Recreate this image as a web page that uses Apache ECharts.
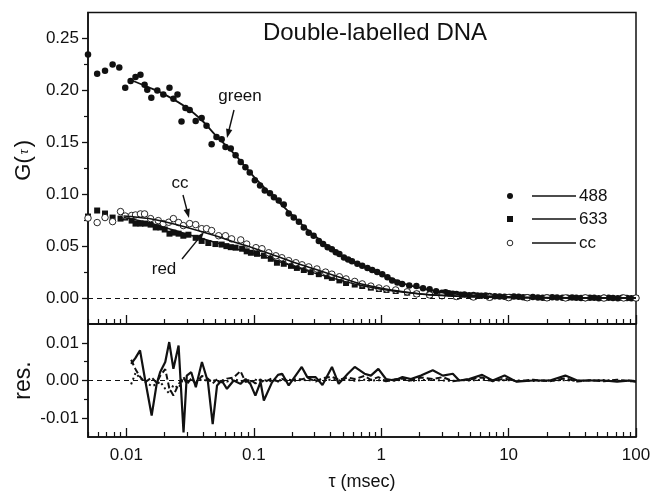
<!DOCTYPE html>
<html><head><meta charset="utf-8">
<script src="https://cdn.jsdelivr.net/npm/echarts@6/dist/echarts.min.js"></script>
<style>html,body{margin:0;padding:0;background:#fff}#c{width:651px;height:495px}</style>
</head><body><div id="c"></div>
<script>
// ---------- data (tau in msec) ----------
const tau488 = [0.005,0.0059,0.0068,0.0078,0.0088,0.0098,0.0108,0.0118,0.0129,0.0139,0.0146,0.0157,0.0175,0.0195,0.0218,0.0234,0.0252,0.0271,0.0291,0.0314,0.035,0.039,0.0426,0.0467,0.051,0.056,0.060,0.066,0.072,0.079,0.086,0.093,0.102,0.112,0.122,0.134,0.144,0.157,0.172,0.188,0.206,0.226,0.247,0.27,0.295,0.324,0.35,0.38,0.41,0.44,0.47,0.51,0.55,0.59,0.65,0.71,0.78,0.85,0.93,1.02,1.12,1.22,1.34,1.46,1.66,1.89,2.13,
  2.4,2.7,3.0,3.2,3.4,3.65,3.9,4.2,4.5,4.9,5.3,5.7,6.1,6.6,7.1,7.8,8.5,9.3,10.2,11,12,13,14,15.5,17,18.5,20,22,24,26.5,29,31.5,34,37,40,43.5,47,51,56,61,66,72,78,85,92,100];
const g488 = [0.2345,0.216,0.219,0.225,0.222,0.2025,0.209,0.213,0.215,0.2055,0.2005,0.193,0.200,0.196,0.2025,0.192,0.196,0.170,0.183,0.181,0.1705,0.1735,0.166,0.148,0.155,0.153,0.1455,0.144,0.1375,0.131,0.126,0.121,0.1135,0.1085,0.1035,0.101,0.097,0.094,0.090,0.0815,0.0775,0.0735,0.068,0.063,0.060,0.055,0.052,0.049,0.047,0.044,0.0425,0.039,0.037,0.0355,0.033,0.031,0.029,0.027,0.025,0.023,0.020,0.017,0.015,0.0135,0.012,0.0115,0.0095,
  0.0085,0.0065,0.005,0.0055,0.0045,0.0042,0.004,0.0032,0.0035,0.0028,0.003,0.0025,0.0022,0.0024,0.002,0.0018,0.0015,0.0012,0.001,0.0014,0.0012,0.0008,0.0008,0.001,0.0006,0.0004,0.0005,0.0007,0.0006,0.0002,0.0003,0.0006,0.0004,0.0,0.0001,0.0003,0.0002,-0.0001,0.0002,0.0003,0.0,-0.0002,0.0002,0.0001,-0.0001,0.0];

const tau633 = [0.005,0.0059,0.0068,0.0078,0.009,0.0098,0.011,0.0118,0.0129,0.014,0.0155,0.017,0.0185,0.02,0.0218,0.0234,0.0257,0.028,0.0307,0.035,0.039,0.044,0.050,0.056,0.061,0.066,0.072,0.081,0.088,0.095,0.106,0.12,0.136,0.152,0.172,0.196,0.218,0.247,0.28,0.324,0.376,0.41,0.47,0.53,0.62,0.71,0.83,0.96,1.1,1.3,1.6,1.9,2.4,3.0,3.9,5.3,7.1,10,14,20,28,40,56,80,100];
const g633 = [0.0785,0.0843,0.0814,0.0775,0.0765,0.0775,0.0746,0.0717,0.0717,0.0717,0.0707,0.068,0.068,0.066,0.062,0.063,0.062,0.060,0.061,0.058,0.055,0.053,0.052,0.0515,0.050,0.049,0.0485,0.0475,0.045,0.0436,0.0426,0.0407,0.0378,0.034,0.033,0.031,0.029,0.027,0.025,0.023,0.021,0.0194,0.017,0.0145,0.013,0.0116,0.010,0.0087,0.0078,0.0068,0.0052,0.004,0.003,0.0022,0.0015,0.001,0.0008,0.0005,0.0003,0.0002,0.0001,0.0002,0.0,0.0001,0.0];

const tauCC = [0.005,0.0059,0.0068,0.0078,0.009,0.0098,0.011,0.0118,0.0129,0.0139,0.0155,0.0178,0.0195,0.0215,0.0234,0.0257,0.028,0.0314,0.035,0.039,0.0426,0.0467,0.053,0.060,0.067,0.079,0.088,0.104,0.116,0.131,0.149,0.166,0.188,0.214,0.239,0.27,0.313,0.366,0.41,0.47,0.53,0.62,0.71,0.83,0.96,1.1,1.3,1.6,1.9,2.4,3.0,3.9,5.3,7.1,10,14,20,28,40,56,80,100];
const gCC = [0.077,0.0727,0.0775,0.0736,0.0833,0.079,0.0795,0.080,0.081,0.081,0.0765,0.0746,0.0717,0.073,0.0765,0.0727,0.0698,0.0717,0.0707,0.0668,0.0668,0.065,0.060,0.060,0.057,0.056,0.052,0.0485,0.0475,0.0436,0.0407,0.0388,0.036,0.034,0.032,0.030,0.028,0.025,0.023,0.0205,0.0184,0.016,0.0136,0.0115,0.0097,0.0088,0.0078,0.006,0.004,0.003,0.0022,0.0015,0.001,0.0007,0.0004,0.0003,0.0002,0.0001,0.0002,0.0,0.0001,0.0];

const fitTau488 = [0.0108,0.015,0.02,0.03,0.04,0.05,0.07,0.1,0.15,0.2,0.3,0.5,0.7,1,1.5,2,3,5,10,20,50,100];
const fit488 = [0.210,0.203,0.196,0.183,0.170,0.157,0.139,0.117,0.095,0.080,0.060,0.040,0.031,0.023,0.014,0.010,0.0055,0.0027,0.001,0.0004,0.0001,0];
const fitTau = [0.0095,0.015,0.02,0.03,0.05,0.07,0.1,0.15,0.2,0.3,0.5,0.7,1,1.5,2,3,5,10,30,100];
const fit633 = [0.0775,0.0725,0.068,0.0615,0.0535,0.048,0.043,0.036,0.031,0.024,0.0165,0.012,0.0085,0.0055,0.004,0.0025,0.0013,0.0005,0.0001,0];
const fitCC = [0.079,0.0765,0.0735,0.068,0.060,0.054,0.048,0.0405,0.035,0.028,0.019,0.0135,0.0095,0.006,0.0042,0.0026,0.0013,0.0005,0.0001,0];

const resTau = [0.0109,0.0118,0.0128,0.014,0.0158,0.0173,0.0184,0.0202,0.0217,0.0234,0.0257,0.0281,0.0298,0.0323,0.0351,0.0392,0.0437,0.0476,0.0515,0.056,0.0616,0.0696,0.0786,0.0862,0.094,0.103,0.113,0.12,0.139,0.155,0.167,0.188,0.213,0.238,0.263,0.306,0.346,0.411,0.464,0.547,0.62,0.74,0.83,0.95,1.09,1.27,1.47,1.71,2.05,2.54,3.05,3.65,4.1,4.9,6.2,7.5,9.3,11.5,15.6,21.1,27.9,34.6,44,56,71,91,100];
const res488 = [0.0044,0.006,0.008,0.0004,-0.0093,-0.0009,0.0022,0.0049,0.0102,0.0031,0.0093,-0.0138,0.0013,0.0022,-0.0018,0.0049,-0.0004,-0.0116,-0.0013,0,-0.0022,0,-0.0009,0.0004,-0.0009,-0.004,-0.0004,-0.0053,-0.0005,0.0015,0.0018,-0.0013,0.0013,0.0036,0.0009,0.0009,-0.0012,0.0036,-0.0009,0.0018,0.0036,0.0018,0.0013,0.0031,0.0004,0,0.0009,0.0004,0.0013,0.0027,0.0013,0.0018,0,0.0004,0.0015,0,0.0013,-0.0003,0,0,0.0013,0,0,0,-0.0003,0,-0.0003];
const res633 = [0.0055,0.003,0.001,-0.0005,0.0008,-0.0006,0.0012,0.003,-0.002,-0.004,-0.001,0.001,-0.001,0.0005,-0.0008,0.0012,0.0005,-0.0008,0.0004,-0.0005,0.0005,0.0008,0.0025,-0.0004,0.0003,-0.0008,0.0003,-0.0005,0.0006,-0.0003,0.0004,-0.0002,0.0003,0.0003,0.0008,-0.0003,0.0006,0.001,0.0002,0.0008,0.0004,0.0012,0.0002,0.0009,-0.0002,0.0003,0.0005,0,0.0008,0.0004,0.0009,-0.0002,0,0.0003,0.0008,-0.0002,0.0005,-0.0002,0.0002,-0.0002,0.0006,-0.0003,0.0001,-0.0002,0.0002,-0.0002,-0.0003];
const resCC = [-0.001,0.002,0.0006,-0.0003,-0.0015,-0.001,-0.0003,-0.0022,-0.0035,-0.0012,-0.002,0.0006,-0.0004,0.0003,-0.0006,0.0004,-0.0002,0.0003,-0.0005,0.0002,-0.0003,0.0004,-0.0002,0.0002,-0.0003,0.0002,-0.0002,0.0001,-0.0002,0.0002,-0.0001,0.0002,-0.0001,0.0002,0,0.0002,-0.0001,0.0003,0,0.0002,-0.0001,0.0002,0,0.0001,-0.0001,0,0.0002,-0.0001,0.0001,0.0002,0,-0.0001,0.0001,0,0.0002,-0.0001,0.0001,0,-0.0001,0,0.0001,-0.0001,0,0.0001,-0.0001,0,-0.0002];

// ---------- axis ticks / labels ----------
const xMajor = [0.01,0.1,1,10,100];
const xMajorLabels = ['0.01','0.1','1','10','100'];
const xMinor = [0.005,0.006,0.007,0.008,0.009,0.02,0.03,0.04,0.05,0.06,0.07,0.08,0.09,0.2,0.3,0.4,0.5,0.6,0.7,0.8,0.9,2,3,4,5,6,7,8,9,20,30,40,50,60,70,80,90];
const yTopMajor = [0,0.05,0.10,0.15,0.20,0.25];
const yTopLabels = ['0.00','0.05','0.10','0.15','0.20','0.25'];
const yTopMinor = [0.025,0.075,0.125,0.175,0.225];
const yResMajor = [-0.01,0,0.01];
const yResLabels = ['-0.01','0.00','0.01'];
const yResMinor = [-0.005,0.005];
const legendLabels = ['488','633','cc'];
const annotations = ['green','cc','red'];
const titleText = 'Double-labelled DNA';

// ---------- build ----------
const L = v => Math.log10(v);
const pairs = (t, v) => t.map((x, i) => [L(x), v[i]]);
const FONT = '"Liberation Sans", Arial, Helvetica, sans-serif';
const INK = '#111';
const X_MIN = L(0.005), X_MAX = L(100);

function lookup(vals, labels) {
  return v => { const i = vals.findIndex(t => Math.abs(t - v) < 1e-9); return i < 0 ? '' : labels[i]; };
}
const xFmt = lookup(xMajor.map(L), xMajorLabels);

function xAxes(grid, withLabels) {
  return [
    { gridIndex: grid, type: 'value', min: X_MIN, max: X_MAX, position: 'bottom',
      axisLine: { onZero: false, lineStyle: { color: INK, width: 1.5 } },
      axisTick: { inside: true, length: 9, customValues: xMajor.map(L), lineStyle: { color: INK, width: 1.3 } },
      axisLabel: withLabels ? { show: true, customValues: xMajor.map(L), formatter: xFmt, color: INK, fontSize: 17, fontFamily: FONT, margin: 10 } : { show: false },
      splitLine: { show: false },
      name: withLabels ? 'τ (msec)' : '', nameLocation: 'middle', nameGap: 36,
      nameTextStyle: { color: INK, fontSize: 18, fontFamily: FONT } },
    { gridIndex: grid, type: 'value', min: X_MIN, max: X_MAX, position: 'bottom',
      axisLine: { show: false, onZero: false },
      axisTick: { inside: true, length: 5, customValues: xMinor.map(L), lineStyle: { color: INK, width: 1.2 } },
      axisLabel: { show: false }, splitLine: { show: false } }
  ];
}
function yAxes(grid, min, max, major, labels, minor, name, gap, nameStyle) {
  return [
    { gridIndex: grid, type: 'value', min, max, position: 'left',
      axisLine: { onZero: false, lineStyle: { color: INK, width: 1.5 } },
      axisTick: { inside: false, length: 6, customValues: major, lineStyle: { color: INK, width: 1.3 } },
      axisLabel: { customValues: major, formatter: lookup(major, labels), color: INK, fontSize: 17, fontFamily: FONT, margin: 9 },
      splitLine: { show: false },
      name, nameLocation: 'middle', nameGap: gap, nameMoveOverlap: false,
      nameTextStyle: Object.assign({ color: INK, fontFamily: FONT }, nameStyle) },
    { gridIndex: grid, type: 'value', min, max, position: 'left',
      axisLine: { show: false, onZero: false },
      axisTick: { inside: false, length: 4, customValues: minor, lineStyle: { color: INK, width: 1.2 } },
      axisLabel: { show: false }, splitLine: { show: false } }
  ];
}

const zeroLine = { silent: true, symbol: 'none', label: { show: false },
  lineStyle: { color: INK, type: [5, 4], width: 1.2 }, data: [{ yAxis: 0 }] };

const series = [
  { type: 'scatter', name: '488', xAxisIndex: 0, yAxisIndex: 0, data: pairs(tau488, g488),
    symbol: 'circle', symbolSize: 6.5, itemStyle: { color: INK, opacity: 1 }, z: 2 },
  { type: 'scatter', name: '633', xAxisIndex: 0, yAxisIndex: 0, data: pairs(tau633, g633),
    symbol: 'rect', symbolSize: 6, itemStyle: { color: INK, opacity: 1 }, z: 2 },
  { type: 'scatter', name: 'cc', xAxisIndex: 0, yAxisIndex: 0, data: pairs(tauCC, gCC),
    symbol: 'circle', symbolSize: 6.5, itemStyle: { color: '#fff', borderColor: INK, borderWidth: 0.9, opacity: 1 }, z: 2 },
  { type: 'line', name: 'fit488', xAxisIndex: 0, yAxisIndex: 0, data: pairs(fitTau488, fit488),
    smooth: 0.4, showSymbol: false, lineStyle: { color: INK, width: 1.8 }, z: 3, markLine: zeroLine },
  { type: 'line', name: 'fit633', xAxisIndex: 0, yAxisIndex: 0, data: pairs(fitTau, fit633),
    smooth: 0.4, showSymbol: false, lineStyle: { color: INK, width: 1.5 }, z: 3 },
  { type: 'line', name: 'fitcc', xAxisIndex: 0, yAxisIndex: 0, data: pairs(fitTau, fitCC),
    smooth: 0.4, showSymbol: false, lineStyle: { color: INK, width: 1.5 }, z: 3 },
  { type: 'line', name: 'res488', xAxisIndex: 2, yAxisIndex: 2, data: pairs(resTau, res488),
    showSymbol: false, lineStyle: { color: INK, width: 2.2 }, z: 3, markLine: zeroLine },
  { type: 'line', name: 'res633', xAxisIndex: 2, yAxisIndex: 2, data: pairs(resTau, res633),
    showSymbol: false, lineStyle: { color: INK, width: 2, type: [6, 3] }, z: 3 },
  { type: 'line', name: 'rescc', xAxisIndex: 2, yAxisIndex: 2, data: pairs(resTau, resCC),
    showSymbol: false, lineStyle: { color: INK, width: 2, type: [2, 3] }, z: 3 }
];

// annotations (pixel layout)
function arrow(x1, y1, x2, y2) {
  const a = Math.atan2(y2 - y1, x2 - x1), c = Math.cos(a), s = Math.sin(a), hl = 9, hw = 3.2;
  const bx = x2 - hl * c, by = y2 - hl * s;
  return [
    { type: 'line', z: 100, shape: { x1, y1, x2: bx + 2 * c, y2: by + 2 * s }, style: { stroke: INK, lineWidth: 1.4 } },
    { type: 'polygon', z: 100, shape: { points: [[x2, y2], [bx - hw * s, by + hw * c], [bx + hw * s, by - hw * c]] }, style: { fill: INK } }
  ];
}
function txt(t, x, y, size, align) {
  return { type: 'text', z: 100, x, y, style: { text: t, fill: INK, font: size + 'px ' + FONT,
    textAlign: align || 'center', align: align || 'center', textVerticalAlign: 'middle', verticalAlign: 'middle' } };
}
const graphics = [
  txt(titleText, 375, 33, 24),
  txt(annotations[0], 240, 96, 17), ...arrow(234, 110, 227, 138),
  txt(annotations[1], 180, 183, 17), ...arrow(183, 195, 189, 218),
  txt(annotations[2], 164, 269, 17), ...arrow(182, 259, 204, 232)
];
// legend
const legY = [196, 219, 243];
graphics.push({ type: 'circle', z: 100, shape: { cx: 510, cy: legY[0], r: 3 }, style: { fill: INK } });
graphics.push({ type: 'rect', z: 100, shape: { x: 507, y: legY[1] - 3, width: 6, height: 6 }, style: { fill: INK } });
graphics.push({ type: 'circle', z: 100, shape: { cx: 510, cy: legY[2], r: 2.8 }, style: { fill: '#fff', stroke: INK, lineWidth: 0.9 } });
legY.forEach((y, i) => {
  graphics.push({ type: 'line', z: 100, shape: { x1: 532, y1: y, x2: 576, y2: y }, style: { stroke: INK, lineWidth: 1.5 } });
  graphics.push(txt(legendLabels[i], 579, y, 17, 'left'));
});

const chart = echarts.init(document.getElementById('c'), null, { renderer: 'canvas' });
chart.setOption({
  animation: false,
  backgroundColor: '#fff',
  grid: [
    { left: 88, right: 15, top: 12.5, height: 311.5, show: true, borderColor: INK, borderWidth: 1.5, backgroundColor: 'transparent', containLabel: false, outerBoundsMode: 'none' },
    { left: 88, right: 15, top: 324, height: 113, show: true, borderColor: INK, borderWidth: 1.5, backgroundColor: 'transparent', containLabel: false, outerBoundsMode: 'none' }
  ],
  xAxis: [...xAxes(0, false), ...xAxes(1, true)],
  yAxis: [
    ...yAxes(0, -0.025, 0.275, yTopMajor, yTopLabels, yTopMinor, 'G({i|τ})', 53,
      { fontSize: 22, padding: [0, 0, 0, 16],
        rich: { i: { fontStyle: 'italic', fontSize: 14, fontFamily: '"Liberation Serif", serif', color: INK, padding: [0, 2, 0, 2] } } }),
    ...yAxes(1, -0.015, 0.015, yResMajor, yResLabels, yResMinor, 'res.', 53, { fontSize: 23 })
  ],
  series,
  graphic: graphics
});
</script>
</body></html>
